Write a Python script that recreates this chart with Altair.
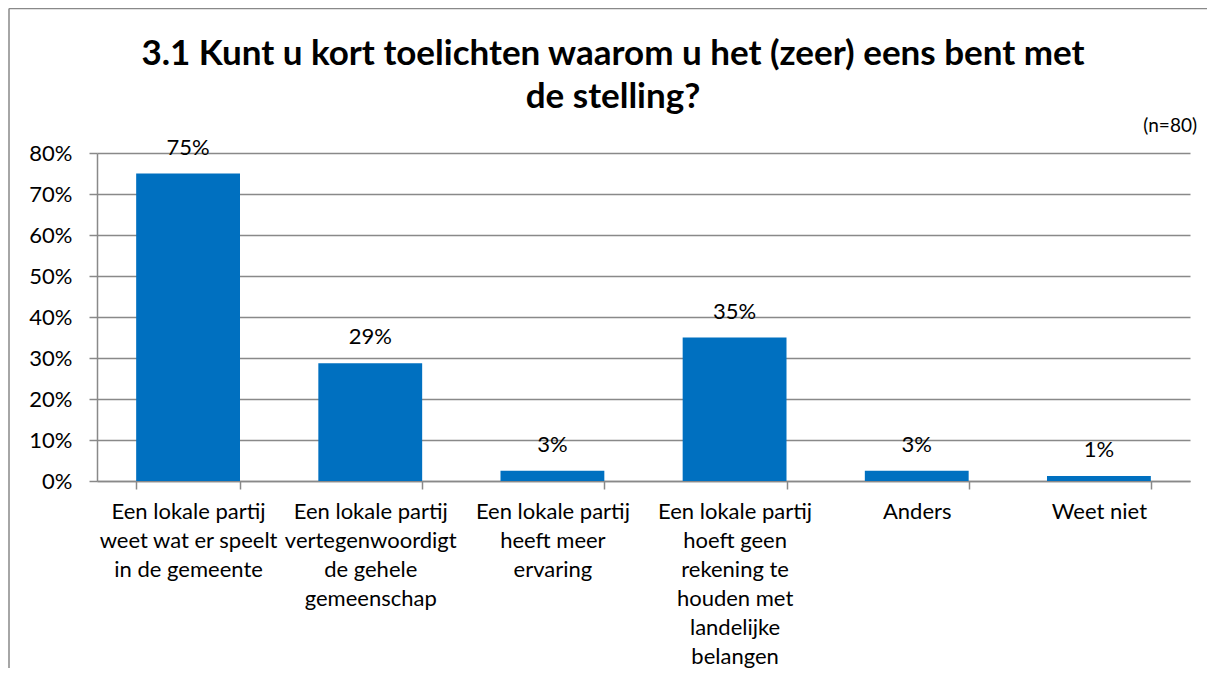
import altair as alt
import pandas as pd

categories = [
    ["Een lokale partij", "weet wat er speelt", "in de gemeente"],
    ["Een lokale partij", "vertegenwoordigt", "de gehele", "gemeenschap"],
    ["Een lokale partij", "heeft meer", "ervaring"],
    ["Een lokale partij", "hoeft geen", "rekening te", "houden met", "landelijke", "belangen"],
    ["Anders"],
    ["Weet niet"],
]
values = [0.75, 0.2875, 0.025, 0.35, 0.025, 0.0125]
value_labels = ["75%", "29%", "3%", "35%", "3%", "1%"]
title_line1 = "3.1 Kunt u kort toelichten waarom u het (zeer) eens bent met"
title_line2 = "de stelling?"
note = "(n=80)"

names = ["\n".join(c) for c in categories]
df = pd.DataFrame({"cat": names, "value": values, "label": value_labels})

FONT = "Lato"
GRAY = "#898989"
BLUE = "#0070C0"

x = alt.X("cat:N", sort=names, title=None,
          scale=alt.Scale(paddingInner=0.43, paddingOuter=0.215),
          axis=alt.Axis(labelAngle=0, labelExpr="split(datum.label, '\\n')",
                        labelFont=FONT, labelFontSize=22, labelLineHeight=29,
                        labelColor="#000000", labelPadding=12, labelLimit=300,
                        tickBand="extent", tickSize=8, tickColor=GRAY, tickWidth=1.5,
                        domainColor=GRAY, domainWidth=1.5, grid=False))
y = alt.Y("value:Q", title=None,
          scale=alt.Scale(domain=[0, 0.8], nice=False),
          axis=alt.Axis(format=".0%", values=[0, .1, .2, .3, .4, .5, .6, .7, .8],
                        labelFont=FONT, labelFontSize=22, labelColor="#000000",
                        labelPadding=17, tickSize=8, tickColor=GRAY, tickWidth=1.5,
                        domainColor=GRAY, domainWidth=1.5,
                        grid=True, gridColor=GRAY, gridWidth=1.5))

base = alt.Chart(df)
bars = base.mark_bar(color=BLUE).encode(x=x, y=y)
texts = base.mark_text(font=FONT, fontSize=22, color="#000000", baseline="alphabetic", dy=-19).encode(
    x=alt.X("cat:N", sort=names), y="value:Q", text="label:N")

one = alt.Chart(pd.DataFrame({"n": [note], "t1": [title_line1], "t2": [title_line2]}))
title1 = one.mark_text(font=FONT, fontSize=35, fontWeight="bold", color="#000000",
                       align="center", baseline="alphabetic").encode(
    x=alt.value(516), y=alt.value(-88), text="t1:N")
title2 = one.mark_text(font=FONT, fontSize=35, fontWeight="bold", color="#000000",
                       align="center", baseline="alphabetic").encode(
    x=alt.value(516), y=alt.value(-45), text="t2:N")
note_mark = one.mark_text(font=FONT, fontSize=19, color="#000000", align="right", baseline="alphabetic").encode(
    x=alt.value(1100), y=alt.value(-21), text="n:N")
left_border = one.mark_rule(color=GRAY, strokeWidth=1.5).encode(
    x=alt.value(-88), y=alt.value(-144.5), y2=alt.value(520))
top_border = one.mark_rule(color=GRAY, strokeWidth=1.5).encode(
    x=alt.value(-88), x2=alt.value(1120), y=alt.value(-144.5))

chart = alt.layer(bars, texts, title1, title2, note_mark, left_border, top_border).properties(
    width=1093, height=328,
    autosize=alt.AutoSizeParams(type="none"),
    padding={"left": 89, "top": 145, "right": 17, "bottom": 187},
).configure_view(stroke=None)

chart.save("out.html", embed_options={"renderer": "svg", "actions": False})
